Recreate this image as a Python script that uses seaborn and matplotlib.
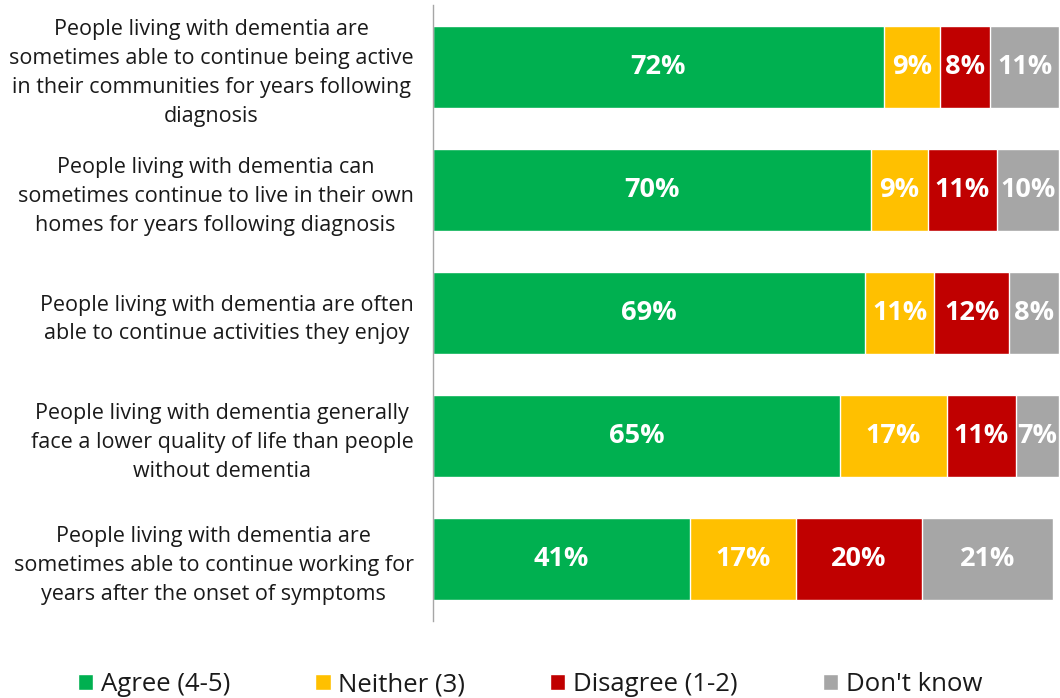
import matplotlib
matplotlib.use('Agg')
import matplotlib.pyplot as plt
import seaborn as sns
import numpy as np
from matplotlib.patches import Patch

# data
statements = [
    "People living with dementia are\nsometimes able to continue being active\nin their communities for years following\ndiagnosis",
    "People living with dementia can\nsometimes continue to live in their own\nhomes for years following diagnosis",
    "People living with dementia are often\nable to continue activities they enjoy",
    "People living with dementia generally\nface a lower quality of life than people\nwithout dementia",
    "People living with dementia are\nsometimes able to continue working for\nyears after the onset of symptoms",
]
agree = [72, 70, 69, 65, 41]
neither = [9, 9, 11, 17, 17]
disagree = [8, 11, 12, 11, 20]
dont_know = [11, 10, 8, 7, 21]
series_names = ["Agree (4-5)", "Neither (3)", "Disagree (1-2)", "Don't know"]
colors = ["#00B050", "#FFC000", "#C00000", "#A6A6A6"]

sns.set_style("white")
plt.rcParams['font.family'] = ['Open Sans', 'DejaVu Sans']

fig = plt.figure(figsize=(10.6, 6.98), dpi=100)
ax = fig.add_axes([433 / 1060, 1 - 621 / 698, 1 - 433 / 1060, 616 / 698])

layers = [agree, neither, disagree, dont_know]
cum = np.cumsum(np.array(layers), axis=0)

# stacked bars drawn back-to-front as cumulative totals
for i in range(3, -1, -1):
    sns.barplot(x=cum[i], y=statements, color=colors[i], orient='h',
                width=0.665, saturation=1, ax=ax)

# value labels in the middle of each segment
for i in range(4):
    lefts = cum[i] - np.array(layers[i])
    for j, v in enumerate(layers[i]):
        ax.text(lefts[j] + v / 2, j, f"{v}%", ha='center', va='center',
                color='white', fontsize=19.5, fontweight='bold')

ax.set_xlim(0, 100.1)
ax.set_ylim(4.5, -0.5)
ax.set_xlabel('')
ax.set_ylabel('')
ax.set_xticks([])
for s in ['top', 'right', 'bottom']:
    ax.spines[s].set_visible(False)
ax.spines['left'].set_color('#A6A6A6')
ax.spines['left'].set_linewidth(1)
ax.tick_params(axis='y', length=0, pad=14, labelsize=15.5, labelcolor='#1a1a1a')
for lbl in ax.get_yticklabels():
    lbl.set_multialignment('center')
    lbl.set_linespacing(1.5)

handles = [Patch(facecolor=c, label=n) for c, n in zip(colors, series_names)]
fig.legend(handles=handles, loc='lower center', bbox_to_anchor=(0.5, -0.032),
           ncol=4, frameon=False, fontsize=18.5, handlelength=0.6,
           handleheight=0.6, handletextpad=0.3, columnspacing=3.3,
           labelcolor='#1a1a1a')

fig.savefig('out.png', dpi=100)
